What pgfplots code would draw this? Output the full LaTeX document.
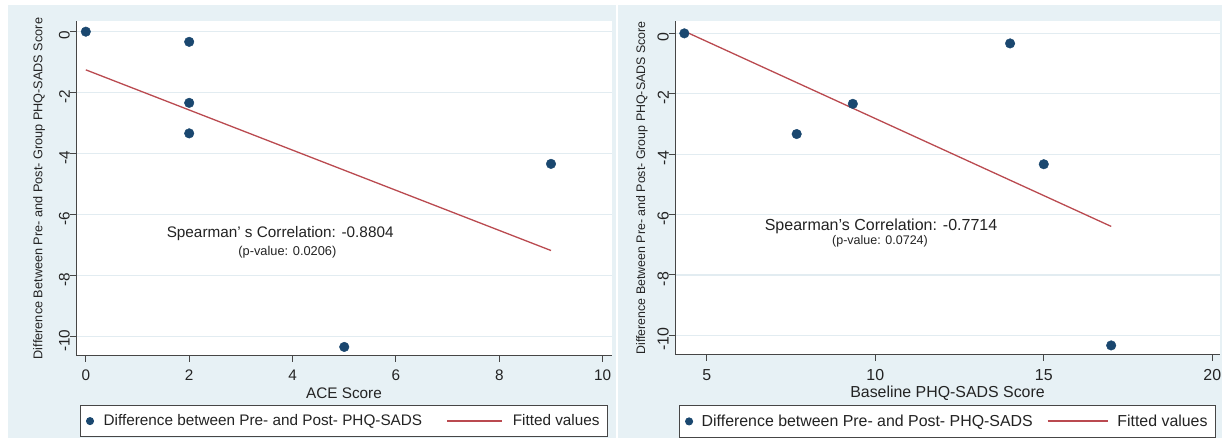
\documentclass[border=0pt]{standalone}
\usepackage{fontspec}
\setmainfont{Liberation Sans}
\usepackage{pgfplots}
\pgfplotsset{compat=1.18}
\definecolor{bgblue}{RGB}{231,241,245}
\definecolor{gridc}{RGB}{226,236,241}
\definecolor{navy}{RGB}{26,71,111}
\definecolor{fitred}{RGB}{186,74,80}
\definecolor{axisgray}{RGB}{70,70,70}
\definecolor{txt}{RGB}{35,35,35}
\pgfplotsset{
  markleg/.style={legend image code/.code={\draw[##1,mark size=3.6pt] plot coordinates {(0pt,0pt)};}},
  lineleg/.style 2 args={legend image code/.code={\draw[##1, line width=1.6pt] (0pt,#2) -- (#1,#2);}},
  statastyle/.style={
    scale only axis,
    axis x line*=bottom, axis y line*=left,
    axis line style={axisgray, line width=1pt},
    axis background/.style={fill=white},
    tick align=outside, major tick length=6pt,
    tick style={axisgray, line width=1pt},
    ymajorgrids, grid style={gridc, line width=1.2pt},
    /pgf/number format/assume math mode=true,
    ytick={-10,-8,-6,-4,-2,0},
    yticklabel style={rotate=90, anchor=south, inner sep=0pt, xshift=-4pt},
    xticklabel style={anchor=north, inner sep=0pt, yshift=-8pt},
    ticklabel style={text=txt},
    legend cell align=left,
    legend columns=2,
  }
}
\begin{document}
\begin{tikzpicture}[x=1pt,y=1pt]
\useasboundingbox (0,0) rectangle (1222,438);
\fill[white] (0,0) rectangle (1222,438);
\fill[bgblue] (8,0) rectangle (616,433);
\fill[bgblue] (618,0) rectangle (1240,433);

% ---------------- left panel ----------------
\begin{axis}[statastyle,
  at={(76pt,82pt)}, anchor=south west,
  width=536pt, height=335pt,
  xmin=-0.19, xmax=10.18, ymin=-10.63, ymax=0.35,
  xtick={0,2,4,6,8,10},
  ticklabel style={font=\fontsize{15.3}{18}\selectfont},
  xlabel={ACE Score},
  every axis x label/.style={at={(axis description cs:0.5,-0.128)}, anchor=base, font=\fontsize{15.3}{18}\selectfont, text=txt},
  ylabel={Difference Between Pre- and Post- Group PHQ-SADS Score},
  every axis y label/.style={at={(axis description cs:-0.069,0.5)}, rotate=90, anchor=center, font=\fontsize{12.7}{15}\selectfont, text=txt},
  legend style={at={(axis description cs:0.5,-0.146)}, anchor=north,
    draw=axisgray, fill=white, line width=0.8pt, text=txt,
    font=\fontsize{15.3}{18}\selectfont, inner ysep=7.5pt, inner xsep=6pt,
    /tikz/every odd column/.append style={column sep=8pt},
    /tikz/every even column/.append style={column sep=22pt}},
]
\addplot[only marks, mark=*, mark size=4.8pt, color=navy, markleg]
  coordinates {(0,0) (2,-0.333) (2,-2.333) (2,-3.333) (5,-10.333) (9,-4.333)};
\addlegendentry{Difference between Pre- and Post- PHQ-SADS}
\addplot[fitred, line width=1.3pt, lineleg={55pt}{0pt}]
  coordinates {(0,-1.251) (9,-7.173)};
\addlegendentry{Fitted values}
\node[font=\fontsize{15.3}{18}\selectfont, text=txt] at (axis cs:3.76,-6.63) {Spearman' s Correlation: -0.8804};
\node[font=\fontsize{12.8}{15}\selectfont, text=txt] at (axis cs:3.9,-7.23) {(p-value: 0.0206)};
\end{axis}

% ---------------- right panel ----------------
\begin{axis}[statastyle,
  at={(675pt,83pt)}, anchor=south west,
  width=545pt, height=334pt,
  xmin=4.056, xmax=20.23, ymin=-10.65, ymax=0.41,
  xtick={5,10,15,20},
  ticklabel style={font=\fontsize{15.9}{18}\selectfont},
  xlabel={Baseline PHQ-SADS Score},
  every axis x label/.style={at={(axis description cs:0.5,-0.128)}, anchor=base, font=\fontsize{15.9}{18}\selectfont, text=txt},
  ylabel={Difference Between Pre- and Post- Group PHQ-SADS Score},
  every axis y label/.style={at={(axis description cs:-0.0606,0.5)}, rotate=90, anchor=center, font=\fontsize{12.4}{15}\selectfont, text=txt},
  legend style={at={(axis description cs:0.5,-0.1497)}, anchor=north,
    draw=axisgray, fill=white, line width=0.8pt, text=txt,
    font=\fontsize{15.9}{18}\selectfont, inner ysep=7.5pt, inner xsep=6pt,
    /tikz/every odd column/.append style={column sep=7pt},
    /tikz/every even column/.append style={column sep=12pt}},
]
\addplot[only marks, mark=*, mark size=4.8pt, color=navy, markleg]
  coordinates {(4.333,0) (7.667,-3.333) (9.333,-2.333) (14,-0.333) (15,-4.333) (17,-10.333)};
\addlegendentry{Difference between Pre- and Post- PHQ-SADS}
\addplot[fitred, line width=1.3pt, lineleg={60pt}{0.5pt}]
  coordinates {(4.333,0.072) (17,-6.392)};
\addlegendentry{Fitted values}
\node[font=\fontsize{16}{18}\selectfont, text=txt] at (axis cs:10.17,-6.38) {Spearman's Correlation: -0.7714};
\node[font=\fontsize{12.5}{15}\selectfont, text=txt] at (axis cs:10.14,-6.87) {(p-value: 0.0724)};
\end{axis}
\end{tikzpicture}
\end{document}
